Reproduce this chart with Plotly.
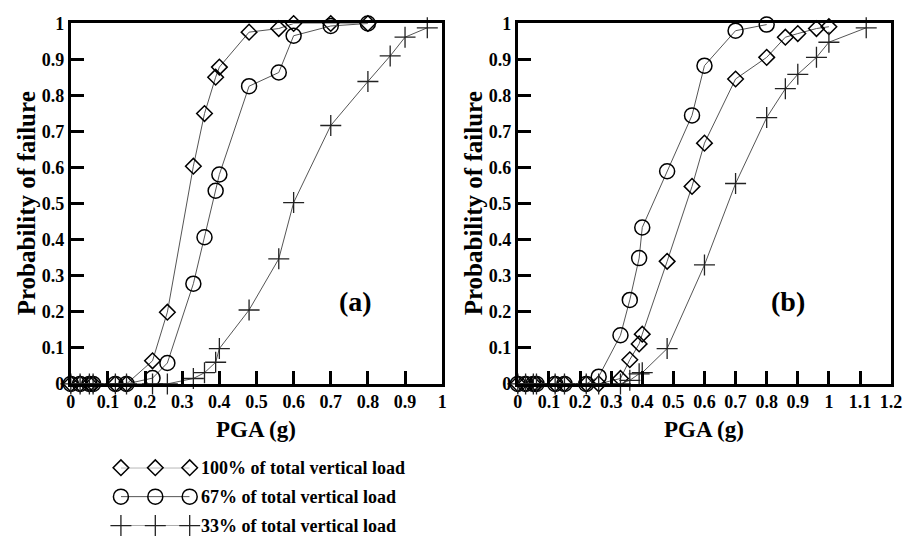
import plotly.graph_objects as go

# ---------------- data ----------------
# Panel (a)
pga_a_100 = [0, 0.025, 0.05, 0.06, 0.12, 0.15, 0.22, 0.26, 0.33, 0.36, 0.39, 0.40, 0.48, 0.56, 0.60, 0.70, 0.80]
pf_a_100 = [0, 0, 0, 0, 0, 0, 0.064, 0.199, 0.604, 0.75, 0.851, 0.879, 0.976, 0.986, 1.0, 1.0, 1.0]
pga_a_67 = [0, 0.025, 0.05, 0.06, 0.12, 0.15, 0.22, 0.26, 0.33, 0.36, 0.39, 0.40, 0.48, 0.56, 0.60, 0.70, 0.80]
pf_a_67 = [0, 0, 0, 0, 0, 0, 0.016, 0.058, 0.278, 0.407, 0.536, 0.581, 0.826, 0.864, 0.966, 0.993, 1.0]
pga_a_33 = [0, 0.025, 0.05, 0.06, 0.12, 0.15, 0.22, 0.26, 0.33, 0.36, 0.39, 0.40, 0.48, 0.56, 0.60, 0.70, 0.80, 0.86, 0.90, 0.96]
pf_a_33 = [0, 0, 0, 0, 0, 0, 0, 0, 0.015, 0.031, 0.06, 0.098, 0.205, 0.347, 0.503, 0.717, 0.839, 0.91, 0.962, 0.988]

# Panel (b)
pga_b_100 = [0, 0.025, 0.05, 0.06, 0.12, 0.15, 0.22, 0.26, 0.33, 0.36, 0.39, 0.40, 0.48, 0.56, 0.60, 0.70, 0.80, 0.86, 0.90, 0.96, 1.0]
pf_b_100 = [0, 0, 0, 0, 0, 0, 0, 0, 0.015, 0.067, 0.111, 0.138, 0.34, 0.548, 0.668, 0.846, 0.906, 0.962, 0.972, 0.986, 0.991]
pga_b_67 = [0, 0.025, 0.05, 0.06, 0.12, 0.15, 0.22, 0.26, 0.33, 0.36, 0.39, 0.40, 0.48, 0.56, 0.60, 0.70, 0.80]
pf_b_67 = [0, 0, 0, 0, 0, 0, 0, 0.02, 0.135, 0.233, 0.349, 0.434, 0.59, 0.745, 0.883, 0.98, 0.997]
pga_b_33 = [0, 0.025, 0.05, 0.06, 0.12, 0.15, 0.22, 0.26, 0.33, 0.36, 0.39, 0.40, 0.48, 0.60, 0.70, 0.80, 0.86, 0.90, 0.96, 1.0, 1.12]
pf_b_33 = [0, 0, 0, 0, 0, 0, 0, 0, 0, 0.01, 0.028, 0.031, 0.098, 0.33, 0.556, 0.739, 0.819, 0.859, 0.906, 0.948, 0.988]

series_names = ["100% of total vertical load", "67% of total vertical load", "33% of total vertical load"]
legend_sample_x = [0, 1, 2]
legend_rows = [2, 1, 0]

y_ticks = [0, 0.1, 0.2, 0.3, 0.4, 0.5, 0.6, 0.7, 0.8, 0.9, 1]
y_ticklabels = ["0", "0.1", "0.2", "0.3", "0.4", "0.5", "0.6", "0.7", "0.8", "0.9", "1"]
x_ticks_a = [0, 0.1, 0.2, 0.3, 0.4, 0.5, 0.6, 0.7, 0.8, 0.9, 1]
x_ticklabels_a = ["0", "0.1", "0.2", "0.3", "0.4", "0.5", "0.6", "0.7", "0.8", "0.9", "1"]
x_ticks_b = [0, 0.1, 0.2, 0.3, 0.4, 0.5, 0.6, 0.7, 0.8, 0.9, 1, 1.1, 1.2]
x_ticklabels_b = ["0", "0.1", "0.2", "0.3", "0.4", "0.5", "0.6", "0.7", "0.8", "0.9", "1", "1.1", "1.2"]

# ---------------- style ----------------
FONT = "Liberation Serif, Times New Roman, serif"
W, H = 909, 550
LINE_COLOR = "#555555"
styles = [
    dict(symbol="diamond-open", size=12, lw=1.5, col="black"),
    dict(symbol="circle-open", size=15, lw=1.5, col="black"),
    dict(symbol="cross-thin-open", size=15, lw=1.3, col="#222222"),
]
PLOT_TOP, PLOT_BOTTOM = 14, 388
A_LEFT, A_RIGHT = 67, 445
B_LEFT, B_RIGHT = 522, 902
TICK_LEN = 13
X_RANGE_A = [0, 1]
X_RANGE_B = [0, 1.2]
Y_RANGE = [0, 1]

def px_x(p):
    return p / W

def px_y(p):
    return 1 - p / H

def bold(lst):
    return ["<b>" + s + "</b>" for s in lst]

fig = go.Figure()

def add_series(x, y, idx, xa, ya):
    st = styles[idx]
    fig.add_trace(go.Scatter(
        x=x, y=y, mode="lines+markers", xaxis=xa, yaxis=ya,
        line=dict(color=LINE_COLOR, width=1),
        marker=dict(symbol=st["symbol"], size=st["size"], color=st["col"],
                    line=dict(color=st["col"], width=st["lw"])),
        cliponaxis=False, showlegend=False, name=series_names[idx]))

add_series(pga_a_100, pf_a_100, 0, "x", "y")
add_series(pga_a_67, pf_a_67, 1, "x", "y")
add_series(pga_a_33, pf_a_33, 2, "x", "y")
add_series(pga_b_100, pf_b_100, 0, "x2", "y2")
add_series(pga_b_67, pf_b_67, 1, "x2", "y2")
add_series(pga_b_33, pf_b_33, 2, "x2", "y2")

# legend samples drawn on a hidden axis
for i in range(3):
    add_series(legend_sample_x, [legend_rows[i]] * 3, i, "x3", "y3")

axis_common = dict(
    showline=True, linecolor="black", linewidth=3, mirror=True,
    ticks="inside", ticklen=TICK_LEN, tickwidth=3, tickcolor="black",
    showgrid=False, zeroline=False,
    ticklabeloverflow="allow",
    tickfont=dict(family=FONT, size=18, color="black"),
)

ydom = [px_y(PLOT_BOTTOM), px_y(PLOT_TOP)]
fig.update_layout(
    width=W, height=H,
    margin=dict(l=0, r=0, t=0, b=0),
    paper_bgcolor="white", plot_bgcolor="white",
    font=dict(family=FONT, color="black"),
    xaxis=dict(domain=[px_x(A_LEFT), px_x(A_RIGHT)], range=X_RANGE_A, tickvals=x_ticks_a,
               ticktext=bold(x_ticklabels_a), anchor="y", **axis_common),
    yaxis=dict(domain=ydom, range=Y_RANGE, tickvals=y_ticks,
               ticktext=bold(y_ticklabels), anchor="x", **axis_common),
    xaxis2=dict(domain=[px_x(B_LEFT), px_x(B_RIGHT)], range=X_RANGE_B, tickvals=x_ticks_b,
                ticktext=bold(x_ticklabels_b), anchor="y2", **axis_common),
    yaxis2=dict(domain=ydom, range=Y_RANGE, tickvals=y_ticks,
                ticktext=bold(y_ticklabels), anchor="x2", **axis_common),
    xaxis3=dict(domain=[px_x(118), px_x(188)], range=[0, 2], visible=False, anchor="y3"),
    yaxis3=dict(domain=[px_y(535), px_y(475)], range=[0, 2], visible=False, anchor="x3"),
)

ann = []
title_font = dict(family=FONT, size=25, color="black")
for cx in [22, 477]:
    ann.append(dict(text="<b>Probability of failure</b>", x=px_x(cx), y=px_y(201),
                    xref="paper", yref="paper", textangle=-90, showarrow=False,
                    font=title_font, xanchor="center", yanchor="middle"))
for cx in [256, 712]:
    ann.append(dict(text="<b>PGA (g)</b>", x=px_x(cx), y=px_y(435),
                    xref="paper", yref="paper", showarrow=False,
                    font=dict(family=FONT, size=23, color="black"),
                    xanchor="center", yanchor="middle"))
ann.append(dict(text="<b>(a)</b>", x=px_x(357), y=px_y(303), xref="paper", yref="paper",
                showarrow=False, font=dict(family=FONT, size=28, color="black"),
                xanchor="center", yanchor="middle"))
ann.append(dict(text="<b>(b)</b>", x=px_x(797), y=px_y(303), xref="paper", yref="paper",
                showarrow=False, font=dict(family=FONT, size=28, color="black"),
                xanchor="center", yanchor="middle"))
for i, row_px in enumerate([475, 505, 535]):
    ann.append(dict(text="<b>" + series_names[i] + "</b>", x=px_x(197), y=px_y(row_px),
                    xref="paper", yref="paper", showarrow=False,
                    font=dict(family=FONT, size=18, color="black"),
                    xanchor="left", yanchor="middle"))
fig.update_layout(annotations=ann)

fig.write_html("out.html")
